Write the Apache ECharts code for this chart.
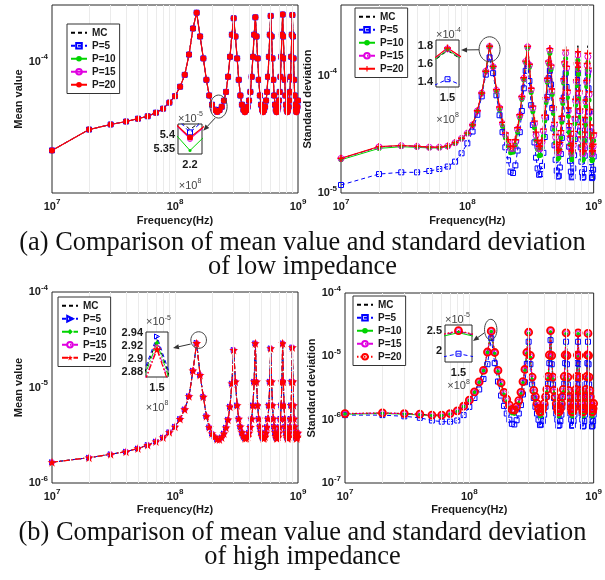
<!DOCTYPE html>
<html><head><meta charset="utf-8">
<script src="https://cdn.jsdelivr.net/npm/echarts@6/dist/echarts.min.js"></script>
<style>html,body{margin:0;padding:0;background:#fff}#c{width:605px;height:580px}</style>
</head><body><div id="c"></div>
<script>
// ---------- frequency grid (MHz) ----------
const freqMHz = [10,20,30,40,50,60,70,80,90,100,110,120,130,140,150,160,170,180,190,200,
210,220,230,240,250,260,270,280,290,300,310,320,330,340,350,360,370,380,390,400,
410,420,430,440,450,460,470,480,490,500,510,520,530,540,550,560,570,580,590,600,
610,620,630,640,650,660,670,680,690,700,710,720,730,740,750,760,770,780,790,800,
810,820,830,840,850,860,870,880,890,900,910,920,930,940,950,960,970,980,990,1000];

// ---------- (a) mean value, low impedance (x1e-5) ----------
const tlMC = [3.37,4.35,4.63,4.80,4.97,5.12,5.35,5.62,6.05,6.55,
7.35,8.50,10.9,15.0,18.2,13.6,10.4,8.00,6.60,5.90,
5.54,5.418,5.52,5.75,6.20,6.90,8.30,10.6,13.9,17.0,
13.6,10.4,8.00,6.60,5.90,5.53,5.41,5.51,5.75,6.20,
6.90,8.30,10.6,13.9,17.2,13.6,10.4,8.00,6.60,5.90,
5.53,5.41,5.51,5.75,6.20,6.90,8.30,10.6,13.9,17.5,
13.6,10.4,8.00,6.60,5.90,5.53,5.41,5.51,5.75,6.20,
6.90,8.30,10.6,13.9,17.8,13.6,10.4,8.00,6.60,5.90,
5.53,5.41,5.51,5.75,6.20,6.90,8.30,10.6,13.9,17.7,
13.6,10.4,8.00,6.60,5.90,5.53,5.41,5.51,5.75,6.20];
const tlP5 = [3.37,4.35,4.63,4.80,4.97,5.12,5.35,5.62,6.05,6.55,
7.35,8.50,10.9,15.0,18.2,13.6,10.4,8.00,6.60,5.90,
5.55,5.408,5.53,5.75,6.20,6.90,8.30,10.6,13.9,17.0,
13.6,10.4,8.00,6.60,5.90,5.55,5.42,5.53,5.75,6.20,
6.90,8.30,10.6,13.9,17.2,13.6,10.4,8.00,6.60,5.90,
5.55,5.42,5.53,5.75,6.20,6.90,8.30,10.6,13.9,17.5,
13.6,10.4,8.00,6.60,5.90,5.55,5.42,5.53,5.75,6.20,
6.90,8.30,10.6,13.9,17.8,13.6,10.4,8.00,6.60,5.90,
5.55,5.42,5.53,5.75,6.20,6.90,8.30,10.6,13.9,17.7,
13.6,10.4,8.00,6.60,5.90,5.55,5.42,5.53,5.75,6.20];
const tlP10 = [3.37,4.35,4.63,4.80,4.97,5.12,5.35,5.62,6.05,6.55,
7.35,8.50,10.9,15.0,18.2,13.6,10.4,8.00,6.60,5.90,
5.50,5.345,5.48,5.75,6.20,6.90,8.30,10.6,13.9,17.0,
13.6,10.4,8.00,6.60,5.90,5.49,5.34,5.47,5.75,6.20,
6.90,8.30,10.6,13.9,17.2,13.6,10.4,8.00,6.60,5.90,
5.49,5.34,5.47,5.75,6.20,6.90,8.30,10.6,13.9,17.5,
13.6,10.4,8.00,6.60,5.90,5.49,5.34,5.47,5.75,6.20,
6.90,8.30,10.6,13.9,17.8,13.6,10.4,8.00,6.60,5.90,
5.49,5.34,5.47,5.75,6.20,6.90,8.30,10.6,13.9,17.7,
13.6,10.4,8.00,6.60,5.90,5.49,5.34,5.47,5.75,6.20];
const tlP15 = [3.37,4.35,4.63,4.80,4.97,5.12,5.35,5.62,6.05,6.55,
7.35,8.50,10.9,15.0,18.2,13.6,10.4,8.00,6.60,5.90,
5.52,5.385,5.50,5.75,6.20,6.90,8.30,10.6,13.9,17.0,
13.6,10.4,8.00,6.60,5.90,5.52,5.375,5.50,5.75,6.20,
6.90,8.30,10.6,13.9,17.2,13.6,10.4,8.00,6.60,5.90,
5.52,5.375,5.50,5.75,6.20,6.90,8.30,10.6,13.9,17.5,
13.6,10.4,8.00,6.60,5.90,5.52,5.375,5.50,5.75,6.20,
6.90,8.30,10.6,13.9,17.8,13.6,10.4,8.00,6.60,5.90,
5.52,5.375,5.50,5.75,6.20,6.90,8.30,10.6,13.9,17.7,
13.6,10.4,8.00,6.60,5.90,5.52,5.375,5.50,5.75,6.20];
const tlP20 = [3.37,4.35,4.63,4.80,4.97,5.12,5.35,5.62,6.05,6.55,
7.35,8.50,10.9,15.0,18.2,13.6,10.4,8.00,6.60,5.90,
5.52,5.39,5.50,5.75,6.20,6.90,8.30,10.6,13.9,17.0,
13.6,10.4,8.00,6.60,5.90,5.52,5.38,5.50,5.75,6.20,
6.90,8.30,10.6,13.9,17.2,13.6,10.4,8.00,6.60,5.90,
5.52,5.38,5.50,5.75,6.20,6.90,8.30,10.6,13.9,17.5,
13.6,10.4,8.00,6.60,5.90,5.52,5.38,5.50,5.75,6.20,
6.90,8.30,10.6,13.9,17.8,13.6,10.4,8.00,6.60,5.90,
5.52,5.38,5.50,5.75,6.20,6.90,8.30,10.6,13.9,17.7,
13.6,10.4,8.00,6.60,5.90,5.52,5.38,5.50,5.75,6.20];

// ---------- (a) standard deviation, low impedance (x1e-5) ----------
const trMC = [1.97,2.47,2.53,2.50,2.46,2.46,2.51,2.68,2.92,3.23,
3.80,5.00,7.10,10.8,17.5,11.9,7.55,5.40,4.00,3.25,
2.84,2.50,2.50,2.84,3.60,4.65,6.65,9.60,13.3,17.6,
12.5,7.80,5.50,4.10,3.30,2.80,2.50,2.50,2.80,3.50,
4.60,6.50,9.60,13.5,17.5,12.5,7.80,5.45,4.00,3.15,
2.62,2.32,2.36,2.72,3.42,4.55,6.50,9.60,13.5,17.8,
12.4,7.70,5.40,3.95,3.08,2.58,2.30,2.34,2.68,3.40,
4.50,6.45,9.50,13.4,18.0,12.4,7.60,5.30,3.90,3.02,
2.55,2.28,2.32,2.65,3.35,4.45,6.35,9.40,13.3,18.0,
12.2,7.50,5.25,3.85,2.98,2.52,2.27,2.32,2.63,3.30];
const trP5 = [1.17,1.45,1.50,1.50,1.54,1.60,1.68,1.85,2.18,2.65,
3.34,4.64,6.66,10.2,14.3,10.5,6.80,4.60,3.30,2.45,
1.90,1.52,1.48,1.72,2.30,3.30,5.00,7.80,11.0,12.5,
9.00,5.60,3.80,2.70,2.00,1.62,1.43,1.45,1.70,2.20,
3.00,4.40,6.60,9.50,11.0,8.40,5.30,3.55,2.55,1.92,
1.55,1.38,1.40,1.65,2.15,2.95,4.30,6.50,9.40,10.5,
8.00,5.10,3.45,2.48,1.88,1.52,1.36,1.38,1.62,2.10,
2.88,4.20,6.40,9.20,10.5,7.90,5.00,3.40,2.45,1.85,
1.50,1.35,1.37,1.60,2.08,2.85,4.15,6.30,9.10,10.5,
7.80,4.95,3.35,2.42,1.83,1.48,1.34,1.37,1.58,2.05];
const trP10 = [1.92,2.40,2.48,2.45,2.42,2.42,2.48,2.64,2.88,3.20,
3.77,4.98,7.05,10.8,17.6,11.8,7.30,5.10,3.70,2.95,
2.52,2.20,2.22,2.56,3.30,4.35,6.30,9.20,12.9,17.0,
11.8,7.20,4.95,3.60,2.80,2.35,2.08,2.10,2.42,3.05,
4.10,5.90,8.80,12.5,15.5,11.3,6.90,4.75,3.50,2.70,
2.22,1.95,2.00,2.32,2.95,4.00,5.80,8.60,12.2,14.0,
10.5,6.50,4.50,3.30,2.58,2.15,1.92,1.96,2.28,2.90,
3.90,5.60,8.20,11.5,13.5,10.3,6.40,4.45,3.25,2.52,
2.10,1.90,1.94,2.22,2.82,3.80,5.50,8.10,11.3,13.0,
9.90,6.20,4.30,3.15,2.46,2.06,1.88,1.92,2.20,2.80];
const trP15 = [1.97,2.47,2.53,2.49,2.45,2.45,2.51,2.68,2.92,3.23,
3.80,5.00,7.10,10.9,17.7,11.9,7.50,5.30,3.90,3.15,
2.72,2.40,2.40,2.74,3.50,4.55,6.55,9.50,13.2,17.6,
12.3,7.60,5.30,3.90,3.10,2.65,2.38,2.40,2.70,3.38,
4.45,6.30,9.20,13.0,16.5,12.0,7.40,5.15,3.80,2.98,
2.48,2.20,2.24,2.58,3.25,4.35,6.20,9.10,12.8,15.5,
11.6,7.20,5.00,3.70,2.90,2.42,2.18,2.22,2.55,3.20,
4.30,6.10,8.90,12.4,15.0,11.4,7.10,4.95,3.65,2.85,
2.40,2.16,2.20,2.50,3.15,4.20,6.00,8.80,12.2,14.5,
11.0,6.90,4.85,3.60,2.80,2.37,2.15,2.20,2.48,3.10];
const trP20 = [1.98,2.49,2.54,2.50,2.46,2.46,2.52,2.69,2.93,3.24,
3.81,5.02,7.12,10.9,17.8,12.0,7.60,5.40,4.00,3.25,
2.84,2.49,2.49,2.84,3.60,4.65,6.65,9.60,13.3,17.8,
12.5,7.80,5.50,4.10,3.30,2.80,2.50,2.50,2.80,3.50,
4.60,6.50,9.50,13.3,17.0,12.3,7.70,5.40,4.00,3.15,
2.60,2.30,2.35,2.70,3.40,4.50,6.40,9.40,13.1,16.5,
12.0,7.50,5.30,3.90,3.05,2.55,2.28,2.32,2.65,3.35,
4.45,6.30,9.20,12.8,16.0,11.8,7.40,5.20,3.85,3.00,
2.52,2.26,2.30,2.62,3.30,4.40,6.20,9.10,12.7,15.5,
11.6,7.30,5.15,3.80,2.95,2.50,2.25,2.30,2.60,3.25];

// ---------- (b) mean value, high impedance (x1e-6) ----------
const blMC = [1.65,1.84,2.00,2.13,2.30,2.50,2.72,2.99,3.40,3.88,
4.68,5.90,8.10,15.0,29.30,13.5,8.00,5.00,3.83,3.30,
3.05,2.87,2.85,3.00,3.30,3.80,4.60,6.30,11.0,24.7,
11.5,6.50,4.70,3.90,3.40,3.10,2.95,2.95,3.05,3.35,
3.85,4.70,6.50,11.5,29.0,11.5,6.50,4.70,3.90,3.40,
3.10,2.95,2.95,3.05,3.35,3.85,4.70,6.50,11.5,25.7,
11.5,6.50,4.70,3.90,3.40,3.10,2.95,2.95,3.05,3.35,
3.85,4.70,6.50,11.5,29.0,11.5,6.50,4.70,3.90,3.40,
3.10,2.95,2.95,3.05,3.35,3.85,4.70,6.50,11.5,26.3,
11.5,6.50,4.70,3.90,3.40,3.10,2.95,2.95,3.05,3.35];
const blP5 = [1.65,1.84,2.00,2.13,2.30,2.50,2.72,2.99,3.40,3.88,
4.68,5.90,8.10,15.0,29.35,13.5,8.00,5.00,3.83,3.30,
3.05,2.87,2.85,3.00,3.30,3.80,4.60,6.30,11.0,24.7,
11.5,6.50,4.70,3.90,3.40,3.10,2.95,2.95,3.05,3.35,
3.85,4.70,6.50,11.5,29.0,11.5,6.50,4.70,3.90,3.40,
3.10,2.95,2.95,3.05,3.35,3.85,4.70,6.50,11.5,25.7,
11.5,6.50,4.70,3.90,3.40,3.10,2.95,2.95,3.05,3.35,
3.85,4.70,6.50,11.5,29.0,11.5,6.50,4.70,3.90,3.40,
3.10,2.95,2.95,3.05,3.35,3.85,4.70,6.50,11.5,26.3,
11.5,6.50,4.70,3.90,3.40,3.10,2.95,2.95,3.05,3.35];
const blP10 = [1.65,1.84,2.00,2.13,2.30,2.50,2.72,2.99,3.40,3.88,
4.68,5.90,8.10,15.0,29.25,13.5,8.00,5.00,3.83,3.30,
3.05,2.87,2.85,3.00,3.30,3.80,4.60,6.30,11.0,24.7,
11.5,6.50,4.70,3.90,3.40,3.10,2.95,2.95,3.05,3.35,
3.85,4.70,6.50,11.5,29.0,11.5,6.50,4.70,3.90,3.40,
3.10,2.95,2.95,3.05,3.35,3.85,4.70,6.50,11.5,25.7,
11.5,6.50,4.70,3.90,3.40,3.10,2.95,2.95,3.05,3.35,
3.85,4.70,6.50,11.5,29.0,11.5,6.50,4.70,3.90,3.40,
3.10,2.95,2.95,3.05,3.35,3.85,4.70,6.50,11.5,26.3,
11.5,6.50,4.70,3.90,3.40,3.10,2.95,2.95,3.05,3.35];
const blP15 = [1.65,1.84,2.00,2.13,2.30,2.50,2.72,2.99,3.40,3.88,
4.68,5.90,8.10,15.0,29.18,13.5,8.00,5.00,3.83,3.30,
3.05,2.87,2.85,3.00,3.30,3.80,4.60,6.30,11.0,24.7,
11.5,6.50,4.70,3.90,3.40,3.10,2.95,2.95,3.05,3.35,
3.85,4.70,6.50,11.5,29.0,11.5,6.50,4.70,3.90,3.40,
3.10,2.95,2.95,3.05,3.35,3.85,4.70,6.50,11.5,25.7,
11.5,6.50,4.70,3.90,3.40,3.10,2.95,2.95,3.05,3.35,
3.85,4.70,6.50,11.5,29.0,11.5,6.50,4.70,3.90,3.40,
3.10,2.95,2.95,3.05,3.35,3.85,4.70,6.50,11.5,26.3,
11.5,6.50,4.70,3.90,3.40,3.10,2.95,2.95,3.05,3.35];
const blP20 = [1.65,1.84,2.00,2.13,2.30,2.50,2.72,2.99,3.40,3.88,
4.68,5.90,8.10,15.0,29.15,13.5,8.00,5.00,3.83,3.30,
3.05,2.87,2.85,3.00,3.30,3.80,4.60,6.30,11.0,24.7,
11.5,6.50,4.70,3.90,3.40,3.10,2.95,2.95,3.05,3.35,
3.85,4.70,6.50,11.5,29.0,11.5,6.50,4.70,3.90,3.40,
3.10,2.95,2.95,3.05,3.35,3.85,4.70,6.50,11.5,25.7,
11.5,6.50,4.70,3.90,3.40,3.10,2.95,2.95,3.05,3.35,
3.85,4.70,6.50,11.5,29.0,11.5,6.50,4.70,3.90,3.40,
3.10,2.95,2.95,3.05,3.35,3.85,4.70,6.50,11.5,26.3,
11.5,6.50,4.70,3.90,3.40,3.10,2.95,2.95,3.05,3.35];

// ---------- (b) standard deviation, high impedance (x1e-6) ----------
const brMC = [1.24,1.27,1.25,1.22,1.18,1.18,1.24,1.37,1.62,2.02,
2.72,3.92,5.95,11.6,24.8,11.4,5.95,3.78,2.68,2.08,
1.68,1.44,1.41,1.58,1.98,2.68,3.98,6.15,11.4,23.8,
10.2,4.65,2.88,2.28,1.78,1.48,1.32,1.34,1.48,1.78,
2.28,2.98,4.75,10.4,25.2,10.2,4.65,2.88,2.28,1.78,
1.48,1.32,1.34,1.48,1.78,2.28,2.98,4.75,10.4,23.8,
10.2,4.65,2.88,2.28,1.78,1.48,1.32,1.34,1.48,1.78,
2.28,2.98,4.75,10.4,23.8,10.2,4.65,2.88,2.28,1.78,
1.48,1.32,1.34,1.48,1.78,2.28,2.98,4.75,10.4,23.5,
10.2,4.65,2.88,2.28,1.78,1.48,1.32,1.34,1.48,1.78];
const brP5 = [1.18,1.18,1.13,1.07,0.97,0.93,0.93,0.97,1.18,1.59,
2.20,3.00,4.40,7.50,19.3,7.80,4.00,2.40,1.65,1.25,
1.00,0.86,0.84,0.98,1.25,1.70,2.50,3.90,7.60,17.0,
7.50,3.60,2.20,1.60,1.25,1.00,0.82,0.84,0.95,1.20,
1.60,2.30,3.70,7.80,18.0,7.50,3.60,2.20,1.60,1.25,
1.00,0.80,0.82,0.95,1.20,1.60,2.30,3.70,7.80,17.0,
7.50,3.60,2.20,1.60,1.25,1.00,0.80,0.82,0.95,1.20,
1.60,2.30,3.70,7.80,17.0,7.50,3.60,2.20,1.60,1.25,
1.00,0.78,0.80,0.95,1.20,1.60,2.30,3.70,7.80,17.0,
7.50,3.60,2.20,1.60,1.25,1.00,0.78,0.80,0.95,1.20];
const brP10 = [1.22,1.25,1.22,1.19,1.15,1.15,1.22,1.35,1.60,2.00,
2.70,3.90,5.90,11.5,24.5,11.0,5.70,3.55,2.50,1.92,
1.52,1.25,1.23,1.42,1.82,2.52,3.80,5.90,11.0,23.0,
9.50,4.30,2.60,2.00,1.55,1.28,1.12,1.14,1.28,1.55,
2.00,2.70,4.40,9.70,24.0,9.50,4.30,2.60,2.00,1.55,
1.28,1.12,1.14,1.28,1.55,2.00,2.70,4.40,9.70,22.5,
9.50,4.30,2.60,2.00,1.55,1.28,1.12,1.14,1.28,1.55,
2.00,2.70,4.40,9.70,22.5,9.50,4.30,2.60,2.00,1.55,
1.28,1.12,1.14,1.28,1.55,2.00,2.70,4.40,9.70,22.0,
9.50,4.30,2.60,2.00,1.55,1.28,1.12,1.14,1.28,1.55];
const brP15 = [1.24,1.27,1.24,1.21,1.17,1.17,1.24,1.37,1.62,2.02,
2.72,3.92,5.95,11.6,24.9,11.3,5.90,3.70,2.62,2.03,
1.63,1.38,1.36,1.54,1.94,2.64,3.92,6.10,11.3,23.5,
10.0,4.55,2.80,2.20,1.72,1.42,1.25,1.27,1.42,1.72,
2.20,2.90,4.65,10.2,25.0,10.0,4.55,2.80,2.20,1.72,
1.42,1.25,1.27,1.42,1.72,2.20,2.90,4.65,10.2,23.0,
10.0,4.55,2.80,2.20,1.72,1.42,1.25,1.27,1.42,1.72,
2.20,2.90,4.65,10.2,23.0,10.0,4.55,2.80,2.20,1.72,
1.42,1.25,1.27,1.42,1.72,2.20,2.90,4.65,10.2,22.5,
10.0,4.55,2.80,2.20,1.72,1.42,1.25,1.27,1.42,1.72];
const brP20 = [1.25,1.28,1.25,1.22,1.18,1.18,1.25,1.38,1.63,2.03,
2.74,3.94,6.00,11.7,25.0,11.5,6.00,3.80,2.70,2.10,
1.70,1.45,1.42,1.60,2.00,2.70,4.00,6.20,11.5,24.0,
10.3,4.70,2.90,2.30,1.80,1.50,1.33,1.35,1.50,1.80,
2.30,3.00,4.80,10.5,25.5,10.3,4.70,2.90,2.30,1.80,
1.50,1.33,1.35,1.50,1.80,2.30,3.00,4.80,10.5,23.5,
10.3,4.70,2.90,2.30,1.80,1.50,1.33,1.35,1.50,1.80,
2.30,3.00,4.80,10.5,23.5,10.3,4.70,2.90,2.30,1.80,
1.50,1.33,1.35,1.50,1.80,2.30,3.00,4.80,10.5,23.0,
10.3,4.70,2.90,2.30,1.80,1.50,1.33,1.35,1.50,1.80];

// ---------- legend names, grid lines, inset tick labels ----------
const seriesNames = ['MC','P=5','P=10','P=15','P=20'];
const xGridVals = [2e7,3e7,4e7,5e7,6e7,7e7,8e7,9e7,1e8,2e8,3e8,4e8,5e8,6e8,7e8,8e8,9e8];
const yGridTL = [3e-5,4e-5,5e-5,6e-5,7e-5,8e-5,9e-5,1e-4];
const yGridTR = [2e-5,3e-5,4e-5,5e-5,6e-5,7e-5,8e-5,9e-5,1e-4,2e-4,3e-4];
const yGridBL = [2e-6,3e-6,4e-6,5e-6,6e-6,7e-6,8e-6,9e-6,1e-5,2e-5,3e-5,4e-5,5e-5,6e-5,7e-5,8e-5,9e-5];
const yGridBR = [2e-7,3e-7,4e-7,5e-7,6e-7,7e-7,8e-7,9e-7,1e-6,2e-6,3e-6,4e-6,5e-6,6e-6,7e-6,8e-6,9e-6,1e-5,2e-5,3e-5,4e-5,5e-5,6e-5,7e-5,8e-5,9e-5];
const insetTLy = [5.35e-5, 5.4e-5];
const insetTRy = [1.4e-4, 1.6e-4, 1.8e-4];
const insetBLy = [2.88e-5, 2.9e-5, 2.92e-5, 2.94e-5];
const insetBRy = [2e-5, 2.5e-5];
const insetTLx = [2.2e8];
const insetPeakX = [1.5e8];

const FF = '"Liberation Sans", Arial, Helvetica, sans-serif';
const TXT = '#1a1a1a';
const BLUE = '#0000ff', GREEN = '#00d400', MAG = '#e000e0', RED = '#ff0000', BLACK = '#000000';
const DASH = [4,3], DASHDOT = [6,2,1.5,2], DOT = [1.5,2];
const STAR = 'path://M50,2 L61,36 L97,36 L68,57 L79,92 L50,70 L21,92 L32,57 L3,36 L39,36 Z';
const PLUS = 'path://M4,0H6V4H10V6H6V10H4V6H0V4H4Z';
const GRIDLINE = {color:'#ebebeb', width:1, type:'solid', opacity:1};

function sty(c, dash, lw, sym, size, mode, rot) {
  const o = {lineStyle:{color:c, width:lw, type:dash}, symbol:sym, symbolSize:size, showSymbol: sym !== 'none'};
  if (rot) o.symbolRotate = rot;
  if (mode === 'open') o.itemStyle = {color:'rgba(255,255,255,0)', borderColor:c, borderWidth:1};
  else if (mode === 'open2') o.itemStyle = {color:'rgba(255,255,255,0)', borderColor:c, borderWidth:1.8};
  else if (mode === 'none') o.itemStyle = {color:'rgba(255,255,255,0)', borderWidth:0};
  else o.itemStyle = {color:c, borderColor:c, borderWidth:0};
  return o;
}

const plots = [
  {key:'a1', gi:0, unit:1e-5, arrays:[tlMC,tlP5,tlP10,tlP15,tlP20], ygrid:yGridTL,
   styles:[sty(BLACK,DASH,1,'none',0,'none'), sty(BLUE,DASH,1,'rect',5,'open'), sty(GREEN,'solid',1,'circle',3),
           sty(MAG,'solid',1,'circle',5,'open'), sty(RED,'solid',1.2,'circle',6)]},
  {key:'a2', gi:1, unit:1e-5, arrays:[trMC,trP5,trP10,trP15,trP20], ygrid:yGridTR,
   styles:[sty(BLACK,DASH,1,'none',0,'none'), sty(BLUE,DASH,1,'rect',5,'open'), sty(GREEN,'solid',1,'circle',5),
           sty(MAG,DASHDOT,1,'circle',6,'open'), sty(RED,'solid',1.1,PLUS,7)]},
  {key:'b1', gi:2, unit:1e-6, arrays:[blMC,blP5,blP10,blP15,blP20], ygrid:yGridBL,
   styles:[sty(BLACK,DASH,1,'none',0,'none'), sty(BLUE,DASH,1,'triangle',5,'open',-90), sty(GREEN,DASHDOT,1,'diamond',5),
           sty(MAG,DASHDOT,1,'circle',5,'open'), sty(RED,DASHDOT,1.2,STAR,9)]},
  {key:'b2', gi:3, unit:1e-6, arrays:[brMC,brP5,brP10,brP15,brP20], ygrid:yGridBR,
   styles:[sty(BLACK,DASH,1,'none',0,'none'), sty(BLUE,DASH,1,'rect',5,'open'), sty(GREEN,'solid',1,'circle',4),
           sty(MAG,DASHDOT,1,'circle',5,'open'), sty(RED,DOT,1.2,'circle',7,'open2')]}
];

function toPairs(vals, unit) { return freqMHz.map((f, i) => [f * 1e6, vals[i] * unit]); }
function powLabel(v) { const e = Math.log10(v); const r = Math.round(e); return Math.abs(e - r) < 1e-6 ? '{b|10}{s|' + r + '}' : ''; }
function fmt(x) { return String(parseFloat(x.toFixed(4))); }
const RICH = {
  b:{fontSize:11, fontWeight:'bold', fontFamily:FF, color:TXT},
  s:{fontSize:8, fontWeight:'bold', fontFamily:FF, color:TXT, padding:[0,0,9,0]}
};
const SUP = {s:{fontSize:7, fontFamily:FF, color:'#444', padding:[0,0,8,0]}};
const nameStyle = {fontSize:11, fontWeight:'bold', fontFamily:FF, color:TXT};

// ---------- layout ----------
const grids = [
  {left:52, top:5, width:246, height:188},
  {left:341, top:5, width:261, height:188},
  {left:52, top:292, width:246, height:191},
  {left:345, top:293, width:257, height:190},
  {left:178, top:124, width:24, height:30},
  {left:436, top:40, width:23, height:47},
  {left:146, top:332, width:22, height:45},
  {left:445, top:325, width:27, height:37}
].map((g, i) => Object.assign({show:true, borderColor:'#262626', borderWidth:1,
   backgroundColor: i >= 4 ? '#ffffff' : 'transparent', z: i >= 4 ? 10 : 0}, g));

const mainY = [
  {min:2e-5, max:2e-4, name:'Mean value', gap:28},
  {min:1e-5, max:4e-4, name:'Standard deviation', gap:20},
  {min:1e-6, max:1e-4, name:'Mean value', gap:28},
  {min:1e-7, max:1e-4, name:'Standard deviation', gap:23}
];
const xAxes = [], yAxes = [];
for (let i = 0; i < 4; i++) {
  xAxes.push({type:'log', logBase:10, gridIndex:i, min:1e7, max:1e9,
    name:'Frequency(Hz)', nameLocation:'middle', nameGap: i < 2 ? 22 : 21, nameTextStyle:nameStyle,
    axisLine:{show:false}, axisTick:{show:false}, splitLine:{show:false},
    axisLabel:{formatter:powLabel, rich:RICH, margin:5, showMinLabel:true, showMaxLabel:true}});
  yAxes.push({type:'log', logBase:10, gridIndex:i, min:mainY[i].min, max:mainY[i].max,
    name:mainY[i].name, nameLocation:'middle', nameGap:mainY[i].gap, nameRotate:90, nameTextStyle:nameStyle,
    axisLine:{show:false}, axisTick:{show:false}, splitLine:{show:false},
    axisLabel:{formatter:powLabel, rich:RICH, margin:4, showMinLabel:true, showMaxLabel:true}});
}
const insets = [
  {xmin:2.17e8, xmax:2.23e8, xv:insetTLx, ymin:5.333e-5, ymax:5.437e-5, yv:insetTLy, yexp:-5, yscale:1e5, xgap:24},
  {xmin:1.4855e8, xmax:1.5145e8, xv:insetPeakX, ymin:1.343e-4, ymax:1.869e-4, yv:insetTRy, yexp:-4, yscale:1e4, xgap:25},
  {xmin:1.4968e8, xmax:1.5032e8, xv:insetPeakX, ymin:2.872e-5, ymax:2.942e-5, yv:insetBLy, yexp:-5, yscale:1e5, xgap:23},
  {xmin:1.4942e8, xmax:1.5058e8, xv:insetPeakX, ymin:1.725e-5, ymax:2.64e-5, yv:insetBRy, yexp:-5, yscale:1e5, xgap:16}
];
const inLabel = {fontSize:11, fontWeight:'bold', fontFamily:FF, color:TXT};
insets.forEach((p, k) => {
  xAxes.push({type:'value', gridIndex:4 + k, min:p.xmin, max:p.xmax, z:12,
    axisLine:{show:false}, axisTick:{show:false}, splitLine:{show:false},
    axisLabel:Object.assign({customValues:p.xv, formatter:v => fmt(v / 1e8), margin:5}, inLabel),
    name:'×10{s|8}', nameLocation:'middle', nameGap:p.xgap,
    nameTextStyle:{fontSize:11, fontFamily:FF, color:'#444', rich:SUP}});
  yAxes.push({type:'value', gridIndex:4 + k, min:p.ymin, max:p.ymax, z:12,
    axisLine:{show:false}, axisTick:{show:false}, splitLine:{show:false},
    axisLabel:Object.assign({customValues:p.yv, formatter:v => fmt(v * p.yscale), margin:3}, inLabel),
    name:'×10{s|' + p.yexp + '}', nameLocation:'end', nameGap:-2,
    nameTextStyle:{fontSize:11, fontFamily:FF, color:'#444', align:'left', rich:SUP}});
});

// ---------- series ----------
const series = [];
plots.forEach(p => {
  // light grid lines (major + minor) positioned through the log axes
  series.push({type:'line', name:'grid#' + p.key, xAxisIndex:p.gi, yAxisIndex:p.gi, data:[], z:1, silent:true,
    lineStyle:GRIDLINE, itemStyle:{color:'#ebebeb'},
    markLine:{silent:true, symbol:['none','none'], label:{show:false}, animation:false, lineStyle:GRIDLINE,
      emphasis:{disabled:true},
      data: xGridVals.map(v => ({xAxis:v, lineStyle:GRIDLINE})).concat(p.ygrid.map(v => ({yAxis:v, lineStyle:GRIDLINE})))}});
  p.arrays.forEach((arr, k) => {
    const data = toPairs(arr, p.unit);
    series.push(Object.assign({type:'line', name:seriesNames[k] + '#' + p.key, xAxisIndex:p.gi, yAxisIndex:p.gi,
      data, animation:false, z:2, emphasis:{disabled:true}}, JSON.parse(JSON.stringify(p.styles[k]))));
    series.push(Object.assign({type:'line', name:seriesNames[k] + '#' + p.key + 'i', xAxisIndex:p.gi + 4, yAxisIndex:p.gi + 4,
      data, animation:false, z:13, emphasis:{disabled:true}}, JSON.parse(JSON.stringify(p.styles[k]))));
  });
});

const legendPos = [[67,24],[355,8],[58,297],[353,296]];
const legends = plots.map((p, i) => ({
  orient:'vertical', left:legendPos[i][0], top:legendPos[i][1], z:50,
  itemWidth:16, itemHeight:7, itemGap:1.5, padding:[3,4,3,3],
  borderColor:'#333', borderWidth:1, backgroundColor:'#fff',
  textStyle:{fontSize:10, fontWeight:'bold', fontFamily:FF, color:TXT, lineHeight:11.5},
  formatter: n => n.split('#')[0], selectedMode:false,
  data: seriesNames.map(n => n + '#' + p.key)
}));

const capStyle = {fontFamily:'"Liberation Serif", "Times New Roman", serif', fontSize:26.4, fontWeight:'normal', color:'#111'};
const titles = [
  ['(a) Comparison of mean value and standard deviation', 230],
  ['of low impedance', 254],
  ['(b) Comparison of mean value and standard deviation', 520],
  ['of high impedance', 544]
].map(t => ({text:t[0], left:'center', top:t[1], padding:0, textStyle:capStyle}));

const chart = echarts.init(document.getElementById('c'), null, {renderer:'canvas'});
chart.setOption({
  backgroundColor:'#fff', animation:false,
  title:titles, grid:grids, xAxis:xAxes, yAxis:yAxes, legend:legends, series
});

// ---------- annotations (ellipse + arrow), placed through the axes ----------
function px(gi, x, y) { return chart.convertToPixel({gridIndex:gi}, [x, y]); }
function arrow(x1, y1, x2, y2) {
  const a = Math.atan2(y2 - y1, x2 - x1), L = 6, W = 2.5;
  const bx = x2 - L * Math.cos(a), by = y2 - L * Math.sin(a);
  return [
    {type:'line', z:100, shape:{x1, y1, x2:bx, y2:by}, style:{stroke:'#333', lineWidth:1}},
    {type:'polygon', z:100, shape:{points:[[x2, y2], [bx + W * Math.sin(a), by - W * Math.cos(a)], [bx - W * Math.sin(a), by + W * Math.cos(a)]]}, style:{fill:'#333'}}
  ];
}
const ann = [
  {gi:0, pt:[2.2e8, 5.39e-5], off:[1.5,-5.5], r:[8.5,11.5], s:[-3.5,11.5], ig:4, corner:[2.23e8, 5.437e-5], e:[1.3,6.7]},
  {gi:1, pt:[1.5e8, 1.78e-4], off:[0,3], r:[10.5,12.5], s:[-10.5,0.5], ig:5, corner:[1.5145e8, 1.869e-4], e:[2,10]},
  {gi:2, pt:[1.5e8, 2.92e-5], off:[2,-3], r:[7.8,8.3], s:[-8,4], ig:6, corner:[1.5032e8, 2.942e-5], e:[5,16]},
  {gi:3, pt:[1.5e8, 2.5e-5], off:[-0.5,-1.5], r:[6.2,10.3], s:[-6.5,3.3], ig:7, corner:[1.5058e8, 2.64e-5], e:[1,16]}
];
const gfx = [];
ann.forEach(a => {
  const p = px(a.gi, a.pt[0], a.pt[1]);
  const cx = p[0] + a.off[0], cy = p[1] + a.off[1];
  gfx.push({type:'ellipse', z:100, shape:{cx, cy, rx:a.r[0], ry:a.r[1]}, style:{fill:'none', stroke:'#444', lineWidth:1}});
  const c = px(a.ig, a.corner[0], a.corner[1]);
  arrow(cx + a.s[0], cy + a.s[1], c[0] + a.e[0], c[1] + a.e[1]).forEach(g => gfx.push(g));
});
chart.setOption({graphic:gfx});
</script>
</body></html>
